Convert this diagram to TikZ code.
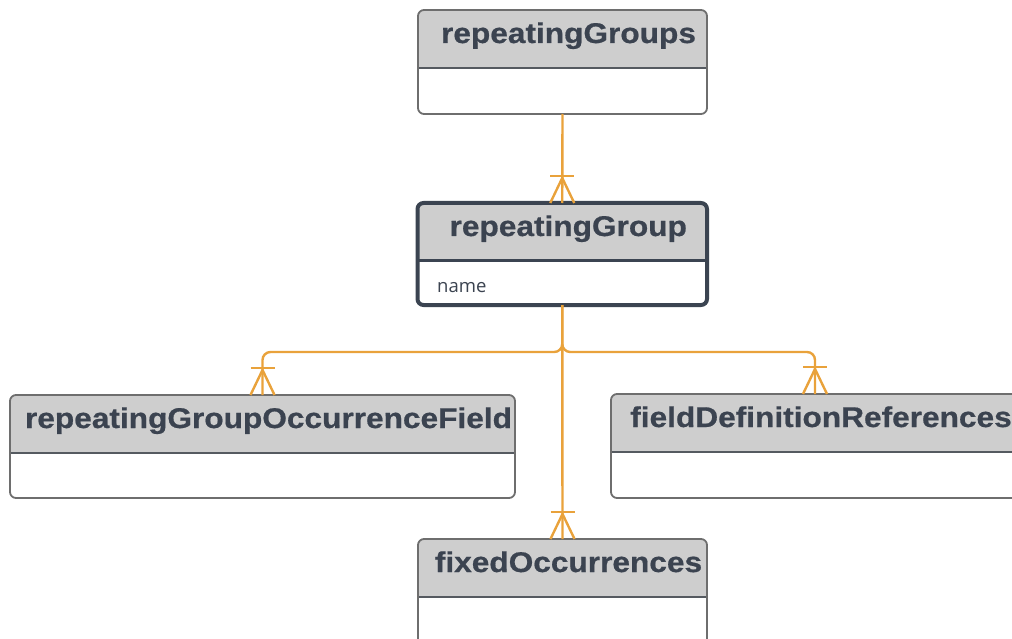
\documentclass[tikz,border=0pt]{standalone}
\usepackage{fontspec}
\setmainfont{Liberation Sans}
\newfontfamily\titlefont{Liberation Sans}[BoldFeatures={FakeBold=0.6}]
\newfontfamily\attrfont{Open Sans}
\usetikzlibrary{calc}
\definecolor{hdrgray}{HTML}{CECECE}
\definecolor{boxline}{HTML}{6E6E6E}
\definecolor{divline}{HTML}{555A60}
\definecolor{darkbox}{HTML}{3B4451}
\definecolor{txtcol}{HTML}{3B4350}
\definecolor{connorange}{HTML}{E9A23B}
\tikzset{
  boxshape/.style={rectangle, draw=boxline, line width=1.8pt, rounded corners=6pt, inner sep=0pt, outer sep=0pt},
  plainbox/.style={},
  mainbox/.style={draw=darkbox, line width=4pt},
  plaindiv/.style={draw=divline, line width=1.6pt},
  maindiv/.style={draw=darkbox, line width=3pt},
  titletext/.style={font=\titlefont\bfseries\fontsize{28.5}{30}\selectfont, text=txtcol, inner sep=0pt, xscale=1.11, anchor=base},
  attrtext/.style={font=\attrfont\fontsize{18.5}{20}\selectfont, text=txtcol, inner sep=0pt, anchor=base west},
  conn/.style={draw=connorange, line width=2.4pt},
  crowfoot/.pic={
    \draw[conn] (-12,-27) -- (12,-27);
    \draw[conn, line join=miter] (-12,0) -- (0,-25) -- (12,0);
  }
}
% \ERentity{name}{x}{y}{w}{h}{divider}{title}{box style}{divider style}
\newcommand\ERentity[9]{%
  \begin{scope}
    \clip[rounded corners=6pt] (#2,#3) rectangle ({#2+#4},{#3+#5});
    \fill[white] (#2,#3) rectangle ({#2+#4},{#3+#5});
    \fill[hdrgray] (#2,#3) rectangle ({#2+#4},{#3+#6});
  \end{scope}
  \draw[#9] (#2,{#3+#6}) -- ({#2+#4},{#3+#6});
  \node[boxshape, #8, minimum width=#4pt, minimum height=#5pt, anchor=north west] (#1) at (#2,#3) {};
  \node[titletext] (#1-title) at ({#2+#4/2+6},{#3+33}) {#7};
}
\begin{document}
\begin{tikzpicture}[x=1pt,y=-1pt]
\useasboundingbox (0,0) rectangle (1012,639);
\begin{scope}
\clip (0,0) rectangle (1012,639);
\ERentity{rgs}{418}{10}{289}{104}{58}{repeatingGroups}{plainbox}{plaindiv}
\ERentity{rg}{417.5}{203}{289.5}{102}{57}{repeatingGroup}{mainbox}{maindiv}
\ERentity{rgof}{10}{395}{505}{103}{58}{repeatingGroupOccurrenceField}{plainbox}{plaindiv}
\ERentity{fdr}{611}{394}{408}{104}{58}{fieldDefinitionReferences}{plainbox}{plaindiv}
\ERentity{fo}{418}{539}{289}{106}{58}{fixedOccurrences}{plainbox}{plaindiv}
\node[attrtext] (rg-name) at (437,292) {name};
\draw[conn] (rgs.south) -- (rg.north);
\path (rg.north) pic {crowfoot};
\draw[conn] (rg.south) -- (fo.north);
\path (fo.north) pic {crowfoot};
\draw[conn, rounded corners=8pt] (rg.south) -- ++(0,47) -| (rgof.north);
\path (rgof.north) pic {crowfoot};
\draw[conn, rounded corners=8pt] (rg.south) -- ++(0,47) -| (fdr.north);
\path (fdr.north) pic {crowfoot};
\end{scope}
\end{tikzpicture}
\end{document}
